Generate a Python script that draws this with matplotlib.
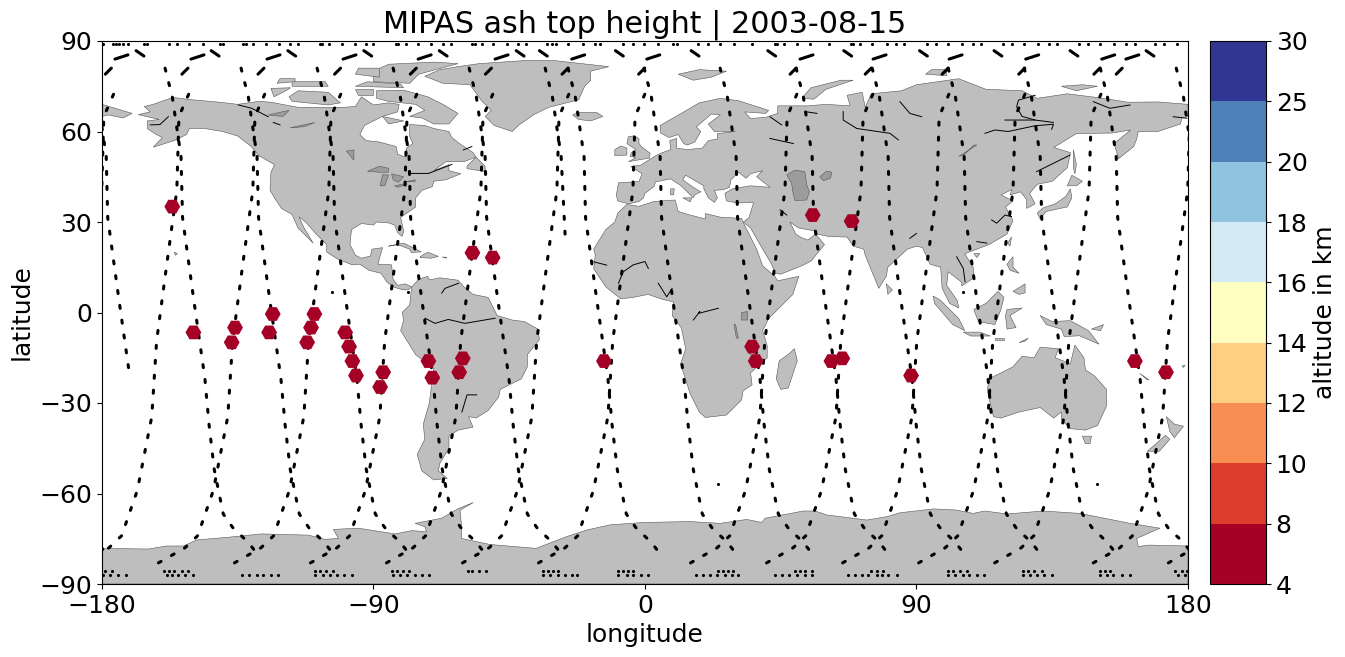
import numpy as np
import matplotlib
matplotlib.use('Agg')
import matplotlib.pyplot as plt
from matplotlib.colors import ListedColormap, BoundaryNorm
from matplotlib.cm import ScalarMappable
from matplotlib.patches import Polygon

# ash detections
ash_lon = [-156.7, -149.7, -135.9, -137, -124.6, -123.4, -110.7, -112, -109.6, -99.4, -98.1, -97, -95.8,
           -86.8, -87.8, -71.8, -70.5, -60.4, -61.6, -57.2, -50.5, -13.6, 35.5, 36.7, 61.8, 65.4, 55.6,
           68.5, 88.2, 162.4, 172.7]
ash_lat = [35.1, -6.6, -5, -9.9, -6.6, -0.5, -5, -9.9, -0.5, -6.6, -11.3, -16.1, -20.9,
           -19.8, -24.7, -16.1, -21.6, -15.2, -19.8, 19.8, 18.2, -16.1, -11.3, -16.1, -16.1, -15.2, 32.3,
           30.3, -20.9, -16.1, -19.8]
ash_alt = [6] * len(ash_lon)

levels = [4, 8, 10, 12, 14, 16, 18, 20, 25, 30]
level_colors = ['#a50026', '#dd3d2d', '#f98e52', '#fdd081', '#feffc0', '#d4ebf3', '#8fc3de', '#4f81b9', '#313695']

# measurement tracks, ascending legs
asc_lats = [-83, -78, -74, -59, -34.5, -9.5, 15.5, 40.5, 65, 75]
asc_lons = [
    [-186.5, -177.7, -173.5, -168.3, -163.5, -161.9, -158.6, -155.2, -154.5, -150.1],
    [-161.3, -152.5, -148.3, -143.1, -138.3, -136.7, -133.4, -130, -129.3, -124.9],
    [-136.1, -127.3, -123.1, -117.9, -113.1, -111.5, -108.2, -104.8, -104.1, -99.7],
    [-110.9, -102.1, -97.9, -92.7, -87.9, -86.3, -83, -79.6, -78.9, -74.5],
    [-85.7, -76.9, -72.7, -67.5, -62.7, -61.1, -57.8, -54.4, -53.7, -49.3],
    [-60.5, -51.7, -47.5, -42.3, -37.5, -35.9, -32.6, -29.2, -28.5, -24.1],
    [-35.3, -26.5, -22.3, -17.1, -12.3, -10.7, -7.4, -4, -3.3, 1.1],
    [15.1, 23.9, 28.1, 33.3, 38.1, 39.7, 43, 46.4, 47.1, 51.5],
    [40.3, 49.1, 53.3, 58.5, 63.3, 64.9, 68.2, 71.6, 72.3, 76.7],
    [65.5, 74.3, 78.5, 83.7, 88.5, 90.1, 93.4, 96.8, 97.5, 101.9],
    [90.7, 99.5, 103.7, 108.9, 113.7, 115.3, 118.6, 122, 122.7, 127.1],
    [115.9, 124.7, 128.9, 134.1, 138.9, 140.5, 143.8, 147.2, 147.9, 152.3],
    [148.6, 157.4, 161.6, 166.8, 171.6, 173.2, 176.5, 179.9, 180.6, 185],
]

# descending legs, two of them stop early
desc_lats = [81, 71.5, 51.7, 31.4, 3.6, -21.8, -37.3, -52, -66.8, -71.5, -76.2, -81.3]
desc_lons = [
    [-159.1, -156.7, -153.8, -153.3, -149.5, -145.9, -144.5, -142.8, -139.8, -136.5, -131.5, -127.6],
    [-133.9, -131.5, -128.6, -128.1, -124.3, -120.7, -119.3, -117.6, -114.6, -111.3, -106.3, -102.4],
    [-108.7, -106.3, -103.4, -102.9, -99.1, -95.5, -94.1, -92.4, -89.4, -86.1, -81.1, -77.2],
    [-83.5, -81.1, -78.2, -77.7, -73.9, -70.3, -68.9, -67.2, -64.2, -60.9, -55.9, -52],
    [-58.3, -55.9, -53, -52.5, -48.7, -45.1, -43.7, -42, -39, -35.7, -30.7, -26.8],
    [-33.1, -30.7, -27.8, -26.5],
    [-25.5, -23.1, -20.2, -19.7, -15.9, -12.3, -10.9, -9.2, -6.2, -2.9, 2.1, 6],
    [-0.3, 2.1, 5, 5.5, 9.3, 12.9, 14.3, 16, 19, 22.3, 27.3, 31.2],
    [24.9, 27.3, 30.2, 30.7, 34.5, 38.1, 39.5, 41.2, 44.2, 47.5, 52.5, 56.4],
    [50.1, 52.5, 55.4, 55.9, 59.7, 63.3, 64.7, 66.4, 69.4, 72.7, 77.7, 81.6],
    [75.3, 77.7, 80.6, 81.1, 84.9, 88.5, 89.9, 91.6, 94.6, 97.9, 102.9, 106.8],
    [100.5, 102.9, 105.8, 106.3, 110.1, 113.7, 115.1, 116.8, 119.8, 123.1, 128.1, 132],
    [125.7, 128.1, 131, 131.5, 135.3, 138.9, 140.3, 142, 145, 148.3, 153.3, 157.2],
    [150.9, 153.3, 156.2, 156.7, 160.5, 164.1, 165.5, 167.2, 170.2, 173.5, 178.5, 182.4],
    [176.1, 178.5, 181.4, 181.9, 185.7, 189.3],
]

# short dashes near the pole
bar84_lons = [-175.7, -150.5, -125.3, -100.1, -75.2, -49.7, -24.3, 0.6, 51.4, 75.6, 100.8, 126.2, 151.4, 159.4]
bar86_lons = [-167.4, -142.5, -117.1, -91.9, -66.9, -41.4, -33.7, -8.5, 16.6, 42, 67.2, 92.3, 117, 142.2, 167.4]
bar80_lons = [-177.9, -152.5, -127.3, -101.9, -76.8, -51.9, -26.5, -1.1, 49.1, 74, 99.5, 124.9, 149.8, 157.2]

top_dot_lons = [-179.6, -176.2, -175.5, -174.4, -172.9, -171.5, -166, -165.2, -157.8, -155, -151, -146.6, -140.9,
                -140, -133.1, -132.4, -129.8, -125.6, -121.2, -117.7, -114.9, -107.7, -107, -104.6, -100.5, -96.1,
                -92.5, -90, -82.5, -81.8, -79.3, -75.4, -71, -67.1, -64.3, -57.4, -56.3, -54.1, -50.3, -45.6, -42,
                -39.4, -32.6, -30.9, -29.5, -25.4, -20.7, -16.6, -14.9, -7.2, -4.1, -0.3, 4.2, 9.2, 10.7, 17.7, 21,
                24.9, 29.5, 35.6, 43.1, 43.6, 46.1, 50.3, 54.7, 61.1, 68.3, 69.1, 71.3, 75.4, 80.1, 83.2, 85.9, 93.4,
                96.5, 100.6, 105, 108.8, 111.3, 118.8, 121.8, 125.6, 130.4, 134, 136.7, 143.9, 147, 150.8, 155.5,
                159.3, 162.4, 169, 172.2, 176.2]
south_row1_lons = [-179, -176.8, -159.3, -157.8, -156, -153.4, -151.4, -109.4, -107.7, -105.9, -103.3, -84, -82.3,
                   -80.1, -78.1, -58.8, -57.2, -55, -52.8, -33.7, -32, -30.4, -28.7, -8.8, -7.2, -5.5, -3.9, 24.3, 26,
                   27.6, 29.3, 49.7, 51.4, 53, 55.3, 74.9, 76.8, 79, 100.6, 102.2, 104.4, 106.9, 125.4, 127.1, 129,
                   131.5, 150.8, 152.5, 154.1, 175.7, 177.9, 179.6]
south_row2_lons = [-179.6, -177.3, -174.8, -172.2, -158.6, -156.7, -154.7, -152.5, -149.7, -133.5, -131.2, -128.7,
                   -126.5, -124, -121.8, -109.4, -106.8, -104.4, -102.2, -99.8, -97, -83.4, -81.2, -79, -76.2, -74,
                   -71.5, -33.7, -31.5, -29, -26.5, -24.3, -22.6, -8.8, -6, -3.9, -1.4, 1.1, 16.9, 19.3, 21.6, 24, 26.5,
                   28.7, 30.9, 43.1, 45.3, 47.9, 50.3, 53, 55.3, 67.2, 69.6, 71.8, 74, 76.8, 78.5, 80.7, 83.4, 100.6,
                   102.8, 105.3, 107.5, 109.9, 112.4, 125.4, 127.6, 129.8, 132.4, 134.8, 150.8, 153, 155.3, 158, 160.8,
                   176.8, 179]
lone_lon = [-103.6, -78.5, 105.5, 24.3, 150]
lone_lat = [6.7, 6.7, 6.7, -57, -57]

# land outlines as (lon, lat)
north_america = [(-168, 65.6), (-164, 66.5), (-166, 68.3), (-163, 69), (-156.5, 71.3), (-150, 70.5), (-141, 69.7),
                 (-135, 69), (-128, 70), (-124, 69.7), (-115, 68), (-108, 68), (-100, 68), (-96, 68.3), (-94, 71.5),
                 (-90, 68.8), (-85, 69.5), (-81.5, 69), (-82, 66.5), (-87, 65), (-93, 62), (-94.5, 59), (-92.5, 57),
                 (-88, 56.5), (-82.5, 55), (-82, 52.5), (-79.5, 51.5), (-79, 54.5), (-77, 56), (-78, 58.5), (-78, 62.3),
                 (-73, 62), (-70, 61), (-65, 60), (-64, 58), (-61.5, 56), (-57, 53), (-56, 51.5), (-60, 50), (-66, 50),
                 (-70, 47), (-65, 49), (-65, 47), (-61, 46), (-66, 44), (-70, 43.5), (-70.5, 41.7), (-74, 40.5),
                 (-76, 38), (-76, 35), (-81, 31.5), (-80, 27), (-80.5, 25.2), (-82, 26.5), (-83, 29), (-85, 29.7),
                 (-89, 30), (-90, 29), (-94, 29.5), (-97.3, 27.5), (-97.8, 22.5), (-96, 19), (-94, 18), (-91, 18.7),
                 (-90.5, 21), (-87, 21.5), (-88, 18), (-88.5, 16), (-84, 15.8), (-83.5, 11), (-82, 9), (-79.5, 9.5),
                 (-77.3, 8.5), (-78.5, 7.5), (-80, 7.5), (-83, 8.3), (-85.5, 10), (-87.5, 13), (-91.5, 14), (-94.5, 16),
                 (-97, 15.8), (-101.5, 17.5), (-105.5, 20), (-105.5, 22.5), (-109, 26), (-112.5, 30), (-114.7, 31.7),
                 (-113, 28), (-110, 23), (-112, 25), (-115, 28), (-117, 32.5), (-120.5, 34.5), (-122.5, 37.5),
                 (-124.3, 40.5), (-124, 46.5), (-122.8, 49), (-128, 52), (-130.5, 55), (-135, 58.5), (-140, 60),
                 (-146, 61), (-151, 61), (-152, 59), (-156, 57), (-163, 54.8), (-160, 58), (-162, 59), (-165, 61),
                 (-165, 63.5), (-161, 64)]
south_america = [(-77.3, 8.5), (-75, 11), (-72, 12), (-71.5, 10.8), (-68, 11.5), (-62, 10.7), (-60, 8.5), (-57, 6),
                 (-52, 5), (-50, 1), (-49, -1), (-44, -2.5), (-40, -3), (-35.5, -5.5), (-35, -9), (-39, -14), (-39, -18),
                 (-41, -22), (-48, -25.5), (-48.5, -28), (-52, -32.5), (-56, -35), (-58.5, -34.5), (-57, -38), (-62, -39),
                 (-65, -41), (-65, -45), (-68, -50), (-68.5, -52.5), (-65.5, -55), (-70, -55.5), (-74, -52.5),
                 (-75.5, -47), (-73, -42), (-73.5, -37), (-71.5, -30), (-70, -18.5), (-76, -14), (-81, -6), (-80, -2.5),
                 (-80.5, 0), (-78, 2.5), (-77.5, 7)]
africa = [(-6, 35.8), (-2, 35.2), (3, 36.8), (10, 37.3), (11, 33.5), (15, 32.3), (20, 31), (20, 32.8), (25, 31.6),
          (32, 31.2), (32.5, 30), (35.5, 24), (37, 21), (39, 15.5), (43, 12), (44, 10.5), (51, 12), (49, 6), (45, 2),
          (41, -2), (39, -6), (40.5, -11), (40.5, -15), (35, -20), (35.5, -24), (32.5, -26), (32, -29), (27, -34),
          (20, -34.8), (18, -33), (15, -27), (11.8, -17), (13.5, -12), (12, -5), (9, -1), (9.5, 3.5), (6, 4.3), (1, 6),
          (-4, 5), (-8, 4.5), (-13, 8.5), (-17, 14.5), (-16.5, 19), (-17, 21), (-13, 27.5), (-10, 30), (-9, 33)]
eurasia = [(-5.5, 36), (-9, 37), (-9.5, 38.8), (-8.8, 43), (-2, 43.4), (-1, 46), (-4.7, 48.4), (-1.5, 48.8), (2, 51),
           (4.5, 52.5), (8.5, 54), (8.2, 57), (10.5, 57.7), (10.5, 54.5), (14, 54), (19, 54.5), (21, 57), (24, 57.5),
           (24, 59.3), (30, 60), (23, 60), (21, 62.5), (25, 65.5), (22, 65.8), (17, 61.5), (18.5, 60), (16.5, 56.5),
           (14, 55.5), (12.8, 56), (11, 59), (8, 58), (5.2, 59.5), (5, 62), (12, 66), (18, 69.5), (25, 71), (31, 70.2),
           (41, 67), (40, 66), (33, 66.5), (35, 64.3), (40, 64.7), (44, 66), (44, 68.5), (54, 68.5), (60, 69), (68, 68.5),
           (67, 72), (72, 73), (73, 68), (75, 72.5), (85, 73.5), (90, 75.5), (104, 77.5), (113, 74), (125, 73.5), (130, 71),
           (140, 72.5), (152, 71), (160, 69.7), (170, 69.8), (180, 69), (180, 65), (178, 64.5), (177.5, 62.5), (170, 60),
           (163.5, 60), (163, 57.5), (162, 55), (157, 51), (155.5, 56), (161, 60.5), (155, 59.5), (143, 59.3), (135.5, 54.7),
           (141, 53), (140, 48), (135, 43.5), (130, 42.5), (127.5, 39.5), (129.3, 36), (126.5, 34.5), (126.5, 37.5),
           (124.5, 40), (121, 39), (121.7, 40.8), (118, 39), (122, 37), (119.5, 35), (122, 30.5), (120, 26), (114, 22.5),
           (110, 21), (106, 19.5), (108.8, 15), (109, 11.5), (105, 8.8), (105, 10), (100.5, 13.5), (100, 9), (103.5, 4),
           (104, 1.5), (101, 3), (98.5, 8), (98, 15), (94.5, 16), (92, 21.5), (90, 22), (87, 21), (80.5, 15), (80, 12),
           (77.5, 8), (73, 19), (72.5, 21), (69, 22), (67, 25), (61, 25.2), (57, 26), (56.5, 27), (51, 28), (48, 30),
           (50, 26), (51.5, 25), (54, 24), (56.5, 26), (59.5, 22.5), (55, 17), (52, 15.5), (45, 12.7), (43, 13), (42, 16),
           (39, 21), (35, 28), (32.6, 30), (34.5, 31.5), (36, 36.5), (30.5, 36.3), (27, 37), (26.5, 39.5), (29, 41),
           (35, 42), (41.5, 41.5), (37, 45), (39, 47), (35, 46), (33.5, 44.5), (31, 46.5), (28.5, 44), (28, 41.5),
           (26, 40.7), (23, 40.5), (24, 38), (23, 36.5), (21, 38), (19.5, 41), (19.5, 42), (13.5, 45.5), (12.5, 44),
           (16, 41.5), (18.5, 40), (16.5, 39), (16, 38), (12, 42), (8.5, 44.3), (3.5, 43.3), (3, 41.8), (0, 39.5),
           (-0.5, 38), (-2, 36.8)]
chukotka = [(-180, 69), (-175, 67.5), (-170, 66), (-173, 64.5), (-178, 65.5), (-180, 65)]
greenland = [(-73, 78.3), (-67, 76), (-58, 75.5), (-54, 70), (-51, 67), (-53, 65), (-50, 62), (-44, 60), (-42, 62),
             (-37, 65.5), (-32, 68), (-22, 70.5), (-20, 75), (-18, 77), (-18, 80), (-12, 81.5), (-30, 83.5), (-40, 83.5),
             (-55, 82.5), (-62, 81.5), (-68, 80.5)]
australia = [(114, -22), (113.5, -26), (115.5, -34.5), (118, -35), (124, -33), (131, -31.5), (135.5, -35), (138, -33),
             (138, -35.5), (141, -38.5), (146, -39), (150, -37.5), (153, -31), (153, -25.5), (149, -21), (146, -19),
             (145.5, -15), (142.5, -10.8), (141, -17), (136, -15), (137, -12), (131, -11.5), (129, -15), (125, -14.5),
             (122, -18)]
antarctica = [(-180, -78.2), (-164.6, -78.4), (-158.6, -77.4), (-153, -77.4), (-148.6, -75.4), (-138.1, -74.5),
              (-127.1, -73.4), (-111.6, -73.8), (-106.1, -75.2), (-101.6, -74.9), (-103.3, -71.9), (-95, -71.5),
              (-82.9, -73.4), (-77.3, -72.3), (-72.4, -72.7), (-73, -71), (-76.2, -69.9), (-67.4, -68.2), (-61.9, -65),
              (-56.9, -63), (-61.3, -65.5), (-60.8, -71), (-60.8, -74.9), (-51.4, -76.9), (-36.1, -78.2), (-26, -74.3),
              (-19.3, -72.1), (-11.6, -70.4), (-0.5, -69.6), (14.9, -69.3), (24.9, -69.9), (33.7, -68.6), (38.7, -69.6),
              (39.8, -68.2), (52.5, -65.8), (56.4, -65.8), (60.2, -67.1), (73.5, -68.8), (80.1, -67.7), (84.5, -66.4),
              (95.6, -65.1), (103.3, -65.5), (108.8, -66.6), (112.7, -65.8), (119.9, -66.8), (132, -65.8), (144.2, -66.6),
              (155.3, -68.8), (160.8, -69.9), (170.7, -71.5), (163, -74.9), (163.5, -77.6), (166.9, -77.1), (180, -77.4),
              (180, -90), (-180, -90)]
islands = [
    [(-62, 66), (-65, 62.5), (-70, 62.5), (-74, 64.5), (-78, 65), (-73, 67), (-76, 69), (-85, 70), (-89, 71), (-89, 73.5),
     (-80, 73.7), (-72, 71.5), (-67, 69)],
    [(-117, 70), (-105, 68.8), (-101, 69.5), (-105, 73), (-115, 73.5), (-118, 71.5)],
    [(-123, 71.5), (-119, 73.5), (-117.5, 74.5), (-124, 74.3)],
    [(-90, 76.5), (-78, 76), (-75, 79), (-62, 82.5), (-70, 83), (-85, 82.3), (-90, 80)],
    [(-96, 75), (-80, 74.5), (-81, 75.7), (-92, 76.5)],
    [(-96, 79), (-88, 78), (-88, 81), (-95, 81)],
    [(-117, 75), (-105, 75), (-106, 76.5), (-117, 76.5)],
    [(-122, 76), (-116, 76.5), (-116, 77.5), (-121, 77.5)],
    [(-87, 65), (-80, 63.5), (-85, 62.5)],
    [(-95, 72), (-90, 72), (-90, 74), (-96, 74)],
    [(-59, 47.7), (-53, 46.7), (-53, 48.5), (-56, 51.5), (-59, 48.5)],
    [(-24, 65.5), (-22, 64), (-18, 63.5), (-14, 65), (-16, 66.3), (-22, 66.3)],
    [(-85, 22), (-80, 23), (-75, 20.5), (-74.2, 20.1), (-77.5, 19.9), (-78, 21), (-82, 22.5)],
    [(-74.5, 18.5), (-72, 20), (-68.5, 18.6), (-71, 18), (-74.5, 18.2)],
    [(-67.2, 18.4), (-65.7, 18.3), (-66, 18)],
    [(-156, 20), (-155, 19.5), (-155.7, 19)],
    [(-5.5, 50), (1.5, 51.2), (1.7, 52.8), (-1, 54.8), (-2, 56), (-2, 57.6), (-3.5, 58.6), (-5.5, 58.3), (-6, 56), (-3, 54),
     (-4.5, 53), (-5, 51.8), (-3, 51.3)],
    [(-10, 52), (-6, 52.2), (-6, 54.5), (-8, 55.2), (-10, 54)],
    [(11, 79), (16, 77), (22, 78), (27, 80), (18, 80.5)],
    [(52, 71), (56, 70.7), (60, 74), (69, 77), (65, 77), (55, 74.5)],
    [(93, 79), (100, 78.5), (100, 80.5), (95, 80.5)],
    [(138, 75), (145, 75.5), (150, 75), (143, 73.5)],
    [(142, 54), (143, 49), (142.5, 46), (142, 48)],
    [(131, 31), (133, 33.5), (140, 35), (141.5, 38), (141, 41), (139.5, 38.5), (136, 36), (132, 34.7), (130, 33)],
    [(140, 42), (141.5, 45.5), (145, 43.5), (143, 42)],
    [(120.2, 23), (121.5, 25), (121, 22)],
    [(120, 16), (122, 18.5), (122, 15), (124, 13), (121, 14)],
    [(122, 7), (126, 9.5), (126, 6.5), (124, 6)],
    [(80, 9.5), (82, 7.5), (80.5, 6)],
    [(109, 19.5), (111, 19.5), (110, 18.2)],
    [(109, 1), (113, 3), (117, 7), (119, 5), (118, 1), (116, -4), (110.5, -3)],
    [(95.5, 5.5), (98, 4), (104, -2), (106, -6), (102, -4), (96, 3)],
    [(105.5, -6.5), (111, -6.5), (114.5, -7.8), (108, -7.8)],
    [(120, 1), (125, 1.5), (121, -1), (123, -5), (120, -5.5), (119.5, -1)],
    [(116, -8.5), (119, -8.5), (119, -9), (116, -9)],
    [(124, -10), (127, -8.5), (126, -9.5)],
    [(131, -1), (135, -3), (141, -2.7), (147, -6), (150.5, -10.5), (144, -7.7), (139, -8), (138, -5.5), (133, -4)],
    [(148, -5.5), (152, -4), (151, -6)],
    [(145, -41), (148, -41), (147.5, -43.5), (146, -43.5)],
    [(172.8, -34.5), (175.5, -37), (178.5, -37.7), (175.5, -41.5), (174, -39.5)],
    [(172.5, -40.7), (174, -42), (170.5, -46), (166.5, -46), (170, -43)],
    [(164, -20.2), (167, -22.3), (166.5, -22.3)],
    [(178, -17.8), (179, -17.5), (178.5, -18.2)],
    [(49.5, -12), (50.5, -16), (47.5, -25), (45, -25.5), (43.5, -22), (44.5, -16), (48, -13.5)],
    [(8.5, 41), (9.7, 41), (9.5, 39), (8.5, 39)],
    [(12.5, 38), (15.5, 38), (15, 36.7)],
]
lakes = [
    [(47, 45.6), (49.7, 47.2), (53, 46.7), (53.6, 42.3), (54.5, 40), (53.6, 37.3), (49.7, 37.1), (49, 40), (48.6, 42.8)],
    [(58, 45), (60.2, 46.9), (61.9, 46.5), (61.5, 44.5), (59.1, 43.7)],
    [(-92, 46.8), (-88, 48.5), (-85, 47.8), (-85, 46.5), (-88, 46.5)],
    [(-87.8, 42), (-86.3, 42), (-85, 45.5), (-87, 45.7)],
    [(-84, 46), (-80, 45), (-81.7, 43.2), (-83.5, 44)],
    [(-83, 42), (-79, 42.8), (-79, 42.4), (-82, 41.5)],
    [(-79.5, 43.3), (-76.2, 44), (-76.2, 43.4)],
    [(-124.9, 65.5), (-118, 67), (-120, 65)],
    [(-117.7, 61.2), (-109.4, 63), (-113, 61.6)],
    [(-99, 53.5), (-96.5, 50.5), (-96.5, 53.9)],
    [(104, 51.7), (110, 55.5), (109, 55.5), (106, 52.5)],
    [(32, 0), (34, 0.3), (34, -2.5), (32, -2.5)],
    [(29.5, -4), (30, -4), (31, -8.5), (30.3, -8.5)],
    [(34, -9.5), (35, -11), (35, -14), (34.2, -13)],
]
rivers = [
    [(-164, 62.2), (-160.8, 62.3), (-158, 64.9)],
    [(-134.8, 68.8), (-130.4, 67.7), (-124.9, 64.9)],
    [(-123.2, 63), (-121, 62.2)],
    [(-77.9, 46.1), (-71.8, 46.1), (-64, 49.1)],
    [(-60.2, 53.9), (-57.4, 55)],
    [(-72.9, -1.9), (-69.6, -3.6), (-65.2, -2.3), (-59.7, -3.6), (-49.7, -1.9)],
    [(-67.4, 6.4), (-66.3, 8), (-61.8, 9.7)],
    [(-55.8, -27.3), (-59, -27.3), (-60.7, -33)],
    [(-8.8, 9.7), (-7.2, 13.5), (-3.9, 15.8), (0, 16.9), (1.1, 14.6)],
    [(4.4, 9.7), (7.2, 5.2), (9, 8)],
    [(-17, 16.8), (-12.7, 15.7)],
    [(16, -2.5), (18.2, 0.3), (17.7, -0.3), (24.3, 1.4)],
    [(41.4, 57.7), (49.2, 56)],
    [(41.4, 64.9), (45.3, 62.2)],
    [(44.8, 34), (47, 32.3)],
    [(53, 66.6), (57, 66)],
    [(65.7, 66.6), (65.7, 63.8), (70.2, 61), (81.2, 59.4), (84, 57.2)],
    [(84.5, 69.9), (87.8, 66), (91.7, 64.9)],
    [(112.7, 59.4), (116, 60.5), (120.4, 60), (129.3, 61.9), (135.4, 62.4), (134.8, 60.7)],
    [(119.3, 63.8), (123.2, 63.8), (129.3, 63.8), (135.4, 63)],
    [(129.3, 72), (123.8, 70.4), (123.2, 68.2), (125, 65), (129.3, 63.8)],
    [(129.8, 46.7), (136.5, 50), (140.9, 52.2)],
    [(103.3, 18.5), (105.5, 14.6), (106.1, 10.2)],
    [(114.9, 30.7), (116.6, 29.6), (119.3, 32.3), (121.5, 31.8)],
    [(110, 23.5), (113.3, 23)],
    [(87.8, 24.6), (90, 26.2)],
    [(148.6, 69.9), (154.1, 67.7), (160.8, 68.8)],
    [(175.1, 64.9), (179.6, 64.4)],
]

land_color = '#bebebe'
lake_color = '#9c9c9c'

fig = plt.figure(figsize=(13.45, 6.57), dpi=100)
ax = fig.add_axes([102 / 1345, 1 - 584 / 657, 1086 / 1345, 543 / 657])
cax = fig.add_axes([1210 / 1345, 1 - 584 / 657, 56 / 1345, 543 / 657])

# land first, tracks go on top
for poly in [north_america, south_america, africa, eurasia, chukotka, greenland, australia, antarctica] + islands:
    ax.add_patch(Polygon(poly, closed=True, fc=land_color, ec='#555555', lw=0.4, zorder=1))
for poly in lakes:
    ax.add_patch(Polygon(poly, closed=True, fc=lake_color, ec='#555555', lw=0.4, zorder=2))
for line in rivers:
    ax.plot([p[0] for p in line], [p[1] for p in line], color='k', lw=0.7, zorder=2)

# dashed tracks, also wrapped over the date line
dash = (0, (1.0, 3.9))
for shift in (-360, 0, 360):
    for lons in asc_lons:
        ax.plot(np.array(lons) + shift, asc_lats[:len(lons)], color='k', lw=2.2, linestyle=dash,
                dash_capstyle='round', zorder=3)
    for lons in desc_lons:
        lats = list(desc_lats[:len(lons)])
        if len(lons) == 4:
            lats[3] = 26
        ax.plot(np.array(lons) + shift, lats, color='k', lw=2.2, linestyle=dash,
                dash_capstyle='round', zorder=3)

for lon in bar84_lons:
    ax.plot([lon, lon + 4.3], [84, 85.4], color='k', lw=2.2, solid_capstyle='round', zorder=3)
for lon in bar86_lons:
    ax.plot([lon - 1.3, lon + 1.3], [86.8, 85], color='k', lw=2.2, solid_capstyle='round', zorder=3)
for lon in bar80_lons:
    ax.plot([lon - 1, lon + 1], [79, 81], color='k', lw=2.2, solid_capstyle='round', zorder=3)

ax.scatter(top_dot_lons, [88.9] * len(top_dot_lons), s=5, c='k', linewidths=0, zorder=3)
ax.scatter(south_row1_lons, [-85.6] * len(south_row1_lons), s=5, c='k', linewidths=0, zorder=3)
ax.scatter(south_row2_lons, [-87] * len(south_row2_lons), s=5, c='k', linewidths=0, zorder=3)
ax.scatter(lone_lon, lone_lat, s=5, c='k', linewidths=0, zorder=3)

cmap = ListedColormap(level_colors)
norm = BoundaryNorm(levels, cmap.N)
ax.scatter(ash_lon, ash_lat, c=ash_alt, cmap=cmap, norm=norm, marker='H', s=130, linewidths=0, zorder=4)

ax.set_xlim(-180, 180)
ax.set_ylim(-90, 90)
ax.set_xticks([-180, -90, 0, 90, 180])
ax.set_yticks([-90, -60, -30, 0, 30, 60, 90])
ax.tick_params(labelsize=18)
ax.set_xlabel('longitude', fontsize=18)
ax.set_ylabel('latitude', fontsize=18)
ax.set_title('MIPAS ash top height | 2003-08-15', fontsize=21.7)

cb = fig.colorbar(ScalarMappable(norm=norm, cmap=cmap), cax=cax, spacing='uniform', ticks=levels)
cb.ax.tick_params(labelsize=18)
cb.set_label('altitude in km', fontsize=18)

fig.savefig('out.png', dpi=100)
